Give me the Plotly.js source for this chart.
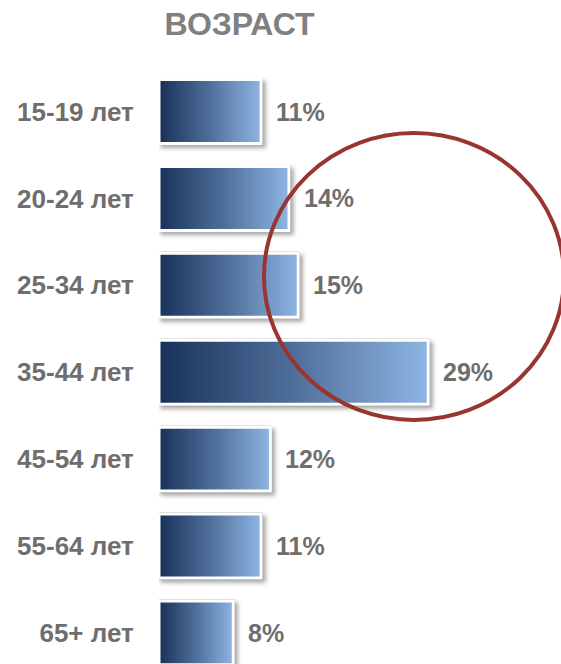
<!DOCTYPE html>
<html>
<head>
<meta charset="utf-8">
<script src="https://cdn.plot.ly/plotly-3.0.1.min.js"></script>
<style>
html,body{margin:0;padding:0;background:#fff;}
#chart{width:561px;height:664px;}
</style>
</head>
<body>
<div id="chart"></div>
<script>
var categories = ["15-19 лет", "20-24 лет", "25-34 лет", "35-44 лет", "45-54 лет", "55-64 лет", "65+ лет"];
var values = [11, 14, 15, 29, 12, 11, 8];
var valueLabels = ["11%", "14%", "15%", "29%", "12%", "11%", "8%"];
var chartTitle = "ВОЗРАСТ";

var textColor = "#6e6e6e";
var fontFam = "Liberation Sans, Arial, sans-serif";

var trace = {
  type: "bar",
  orientation: "h",
  x: values,
  y: categories,
  marker: { color: "#4f6f9b", line: { color: "#ffffff", width: 3 } },
  hoverinfo: "none"
};

var annotations = values.map(function (v, i) {
  return {
    x: v, y: categories[i], xref: "x", yref: "y",
    text: valueLabels[i], showarrow: false,
    xanchor: "left", yanchor: "middle", xshift: 13, yshift: 0,
    font: { family: fontFam, size: 25, color: textColor, weight: "bold" }
  };
});

var layout = {
  width: 561, height: 664,
  margin: { l: 159, r: 0, t: 60, b: 0, pad: 0 },
  paper_bgcolor: "#ffffff", plot_bgcolor: "#ffffff",
  showlegend: false,
  bargap: 0.264,
  title: {
    text: chartTitle,
    x: 0.427, xref: "container", xanchor: "center",
    y: 0.964, yref: "container", yanchor: "middle",
    font: { family: fontFam, size: 32, color: "#808080", weight: "bold" }
  },
  xaxis: {
    range: [0, 43.3], visible: false, fixedrange: true
  },
  yaxis: {
    type: "category", range: [6.358, -0.593], autorange: false,
    showgrid: false, zeroline: false, showline: false,
    ticks: "outside", ticklen: 19, tickcolor: "rgba(0,0,0,0)",
    tickfont: { family: fontFam, size: 26, color: textColor, weight: "bold" },
    fixedrange: true
  },
  annotations: annotations,
  shapes: [{
    type: "circle", xref: "paper", yref: "paper",
    x0: 0.261, x1: 1.0075, y0: 0.404, y1: 0.879,
    line: { color: "#983530", width: 4 },
    fillcolor: "rgba(0,0,0,0)", layer: "above"
  }]
};

Plotly.newPlot("chart", [trace], layout, { staticPlot: true, displayModeBar: false }).then(function (gd) {
  var svg = gd.querySelector("svg.main-svg");
  var ns = "http://www.w3.org/2000/svg";
  var defs = svg.querySelector("defs") || svg.insertBefore(document.createElementNS(ns, "defs"), svg.firstChild);
  var lg = document.createElementNS(ns, "linearGradient");
  lg.setAttribute("id", "barGrad");
  lg.setAttribute("x1", "0"); lg.setAttribute("y1", "0");
  lg.setAttribute("x2", "1"); lg.setAttribute("y2", "0");
  [["0", "#18315a"], ["0.5", "#4f6f9a"], ["1", "#8fb5e4"]].forEach(function (s) {
    var st = document.createElementNS(ns, "stop");
    st.setAttribute("offset", s[0]);
    st.setAttribute("stop-color", s[1]);
    lg.appendChild(st);
  });
  defs.appendChild(lg);
  gd.querySelectorAll(".bars .point path").forEach(function (p) {
    p.style.fill = "url(#barGrad)";
    p.style.filter = "drop-shadow(0px 0px 0.6px rgba(0,0,0,0.45)) drop-shadow(3px 3px 2px rgba(0,0,0,0.35))";
  });
});
</script>
</body>
</html>
